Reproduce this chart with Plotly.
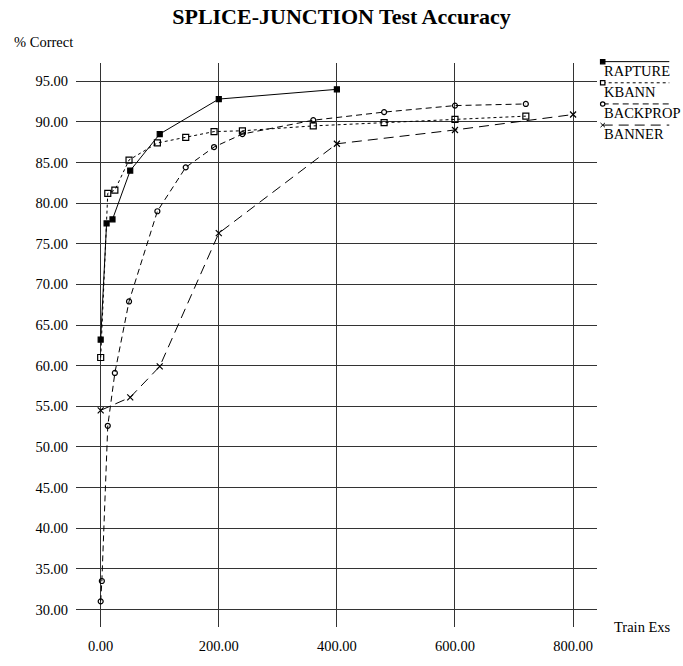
import plotly.graph_objects as go

# ---- data ----
rapture_x = [0, 10, 20, 50, 100, 200, 400]
rapture_y = [63.2, 77.5, 78.0, 84.0, 88.5, 92.8, 94.0]

kbann_x = [0, 12, 24, 48, 96, 144, 192, 240, 360, 480, 600, 720]
kbann_y = [61.0, 81.2, 81.6, 85.3, 87.4, 88.1, 88.8, 88.9, 89.5, 89.9, 90.3, 90.7]

backprop_x = [0, 2, 12, 24, 48, 96, 144, 192, 240, 360, 480, 600, 720]
backprop_y = [31.0, 33.5, 52.6, 59.1, 67.9, 79.0, 84.4, 86.9, 88.5, 90.2, 91.2, 92.0, 92.2]

banner_x = [0, 50, 100, 200, 400, 600, 800]
banner_y = [54.5, 56.1, 59.9, 76.3, 87.3, 89.0, 90.9]

x_ticks = [0, 200, 400, 600, 800]
y_ticks = [30, 35, 40, 45, 50, 55, 60, 65, 70, 75, 80, 85, 90, 95]

series_names = ["RAPTURE", "KBANN", "BACKPROP", "BANNER"]

FONT = "Liberation Serif"

fig = go.Figure()

styles = [
    dict(dash="solid", symbol="square", size=5, fill=True),
    dict(dash="dot", symbol="square-open", size=6, fill=False),
    dict(dash="6px,4px", symbol="circle-open", size=5, fill=False),
    dict(dash="10px,6px", symbol="x-thin-open", size=6, fill=False),
]
data = [(rapture_x, rapture_y), (kbann_x, kbann_y), (backprop_x, backprop_y), (banner_x, banner_y)]

for name, (xs, ys), st in zip(series_names, data, styles):
    fig.add_trace(go.Scatter(
        x=xs, y=ys, name=name, mode="lines+markers",
        line=dict(color="black", width=1, dash=st["dash"]),
        marker=dict(symbol=st["symbol"], size=st["size"], color="black",
                    line=dict(color="black", width=1.2)),
        showlegend=False, cliponaxis=False,
    ))

# ---- custom legend (line segment with marker at its left end, label below) ----
W_PLOT = 521.0
H_PLOT = 578.7
def px_x(p):
    return (p - 76) / W_PLOT
def px_y(p):
    return (641.7 - p) / H_PLOT

leg_line_y = [61.6, 83.3, 105.0, 126.7]
leg_text_y = [71.5, 93.0, 114.0, 135.5]
for name, st, ly, ty in zip(series_names, styles, leg_line_y, leg_text_y):
    fig.add_shape(type="line", xref="paper", yref="paper",
                  x0=px_x(602.7), x1=px_x(669.3), y0=px_y(ly), y1=px_y(ly),
                  line=dict(color="black", width=1, dash=st["dash"]))
    s = 2.2
    if st["symbol"].startswith("circle"):
        fig.add_shape(type="circle", xref="paper", yref="paper",
                      x0=px_x(602.7 - s), x1=px_x(602.7 + s), y0=px_y(ly + s), y1=px_y(ly - s),
                      line=dict(color="black", width=1.2), fillcolor="white")
    elif st["symbol"].startswith("x"):
        fig.add_shape(type="line", xref="paper", yref="paper",
                      x0=px_x(602.7 - s), x1=px_x(602.7 + s), y0=px_y(ly + s), y1=px_y(ly - s),
                      line=dict(color="black", width=1))
        fig.add_shape(type="line", xref="paper", yref="paper",
                      x0=px_x(602.7 - s), x1=px_x(602.7 + s), y0=px_y(ly - s), y1=px_y(ly + s),
                      line=dict(color="black", width=1))
    else:
        fig.add_shape(type="rect", xref="paper", yref="paper",
                      x0=px_x(602.7 - s), x1=px_x(602.7 + s), y0=px_y(ly + s), y1=px_y(ly - s),
                      line=dict(color="black", width=1.2),
                      fillcolor="black" if st["fill"] else "white")
    fig.add_annotation(text=name, xref="paper", yref="paper",
                       x=px_x(602.5), y=px_y(ty), xanchor="left", yanchor="middle",
                       showarrow=False, borderpad=0,
                       font=dict(family=FONT, size=14.5, color="black"))

# axis titles
fig.add_annotation(text="% Correct", xref="paper", yref="paper",
                   x=px_x(13), y=px_y(41), xanchor="left", yanchor="middle",
                   showarrow=False, borderpad=0,
                   font=dict(family=FONT, size=14.5, color="black"))
fig.add_annotation(text="Train Exs", xref="paper", yref="paper",
                   x=px_x(613), y=px_y(642), xanchor="left", yanchor="middle",
                   showarrow=False, borderpad=0,
                   font=dict(family=FONT, size=14.5, color="black"))

fig.update_layout(
    width=683, height=666,
    margin=dict(l=76, r=86, t=63, b=24, pad=0),
    paper_bgcolor="white", plot_bgcolor="white",
    title=dict(text="<b>SPLICE-JUNCTION Test Accuracy</b>", x=0.5, xanchor="center",
               y=1 - 16 / 666, yanchor="middle",
               font=dict(family=FONT, size=22, color="black")),
    font=dict(family=FONT, size=14.5, color="black"),
    showlegend=False,
    hovermode=False,
)
fig.update_xaxes(range=[-41.8, 840.5], tickvals=x_ticks, ticktext=[f"{v:.2f}" for v in x_ticks],
                 showgrid=True, gridcolor="#333", gridwidth=1, zeroline=False,
                 showline=False, ticks="outside", ticklen=6, tickcolor="white",
                 tickfont=dict(family=FONT, size=14.5, color="black"))
fig.update_yaxes(range=[27.84, 97.24], tickvals=y_ticks, ticktext=[f"{v:.2f}" for v in y_ticks],
                 showgrid=True, gridcolor="#333", gridwidth=1, zeroline=False,
                 showline=False, ticks="outside", ticklen=4, tickcolor="white",
                 tickfont=dict(family=FONT, size=14.5, color="black"))

fig.write_html(
    "out.html",
    config={"displayModeBar": False, "staticPlot": True},
    post_script="document.body.style.margin='0';document.body.style.overflow='hidden';",
)
